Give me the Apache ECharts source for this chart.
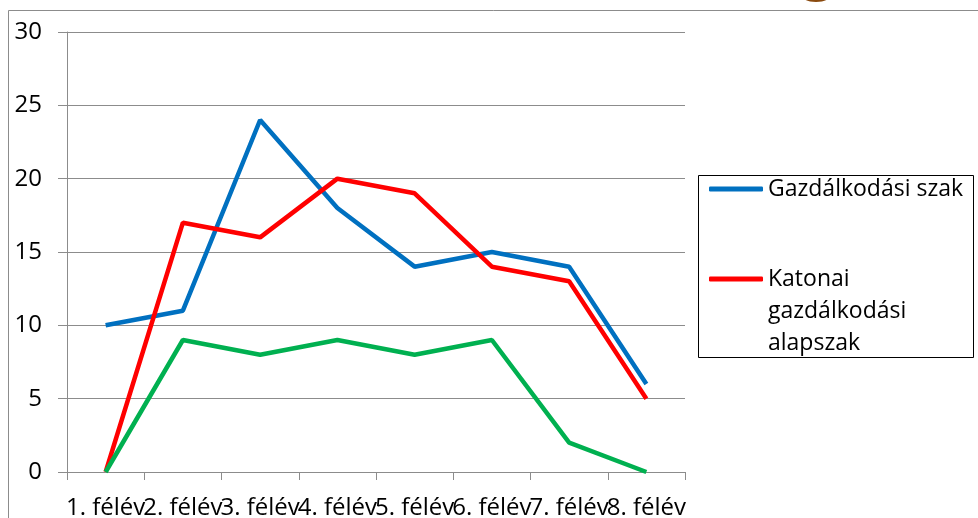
<!DOCTYPE html>
<html>
<head>
<meta charset="utf-8">
<script src="https://cdn.jsdelivr.net/npm/echarts@6/dist/echarts.min.js"></script>
<style>
  html, body { margin: 0; padding: 0; background: #fff; }
  #chart { width: 978px; height: 518px; }
</style>
</head>
<body>
<div id="chart"></div>
<script>
// félévek
var categories = ['1. félév', '2. félév', '3. félév', '4. félév', '5. félév', '6. félév', '7. félév', '8. félév'];
var gazdalkodasi = [10, 11, 24, 18, 14, 15, 14, 6];
var katonai = [0, 17, 16, 20, 19, 14, 13, 5];
var harmadik = [0, 9, 8, 9, 8, 9, 2, 0];   // legend entry is cut off in the original
var yTicks = { min: 0, max: 30, interval: 5 };

var fontName = '"Open Sans", "Noto Sans", sans-serif';
var chart = echarts.init(document.getElementById('chart'));

function lineSeries(name, data, color) {
    return {
        name: name,
        type: 'line',
        data: data,
        symbol: 'none',
        lineStyle: { color: color, width: 4.5 },
        itemStyle: { color: color },
        animation: false
    };
}

var legendText = { color: '#000', fontSize: 23, lineHeight: 32, fontFamily: fontName };

var option = {
    backgroundColor: '#fff',
    textStyle: { fontFamily: fontName },
    grid: { left: 67, right: 293, top: 32, bottom: 46, outerBoundsMode: 'none' },
    legend: [{
        data: ['Gazdálkodási szak'],
        orient: 'vertical',
        left: 709,
        top: 173,
        padding: 0,
        itemWidth: 54,
        itemHeight: 5,
        icon: 'roundRect',
        textStyle: legendText,
        selectedMode: false
    }, {
        data: ['Katonai gazdálkodási alapszak'],
        orient: 'vertical',
        left: 709,
        top: 199,
        padding: 0,
        itemWidth: 54,
        itemHeight: 5,
        icon: 'roundRect',
        // two empty lines on top so the icon lines up with the first text line
        formatter: function () { return '\n\nKatonai\ngazdálkodási\nalapszak'; },
        textStyle: legendText,
        selectedMode: false
    }],
    graphic: [
        { type: 'rect', shape: { x: 8.5, y: 10.5, width: 1000, height: 600 }, style: { fill: 'none', stroke: '#8c8c8c', lineWidth: 1 }, silent: true },
        { type: 'rect', shape: { x: 698.5, y: 175.5, width: 275, height: 182 }, style: { fill: 'none', stroke: '#000', lineWidth: 1 }, silent: true, z: 0 },
        { type: 'ellipse', shape: { cx: 816, cy: -3, rx: 13, ry: 5 }, style: { fill: '#8a4a0f' }, silent: true }
    ],
    xAxis: {
        type: 'category',
        data: categories,
        boundaryGap: true,
        axisLine: { lineStyle: { color: '#8c8c8c', width: 1 } },
        axisTick: { show: true, length: 8, lineStyle: { color: '#8c8c8c' } },
        axisLabel: { interval: 0, color: '#000', fontSize: 24, margin: 24, fontFamily: fontName },
        splitLine: { show: false }
    },
    yAxis: {
        type: 'value',
        min: yTicks.min,
        max: yTicks.max,
        interval: yTicks.interval,
        axisLine: { show: true, lineStyle: { color: '#8c8c8c', width: 1 } },
        axisTick: { show: true, length: 9, lineStyle: { color: '#8c8c8c' } },
        axisLabel: { color: '#000', fontSize: 24, margin: 25, fontFamily: fontName },
        splitLine: { show: true, lineStyle: { color: '#8c8c8c', width: 1 } }
    },
    series: [
        lineSeries('Gazdálkodási szak', gazdalkodasi, '#0070C0'),
        lineSeries('Katonai gazdálkodási alapszak', katonai, '#FF0000'),
        lineSeries('Harmadik', harmadik, '#00B050')
    ]
};

chart.setOption(option);
</script>
</body>
</html>
